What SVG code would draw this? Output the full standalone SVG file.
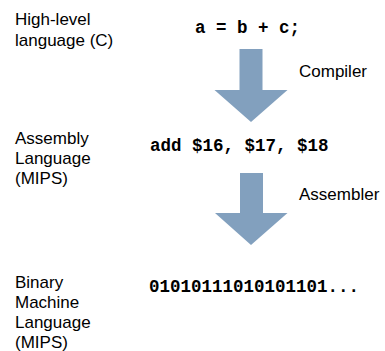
<svg xmlns="http://www.w3.org/2000/svg" width="385" height="351" viewBox="0 0 385 351">
<style>
.lbl{font-family:"Liberation Sans",Arial,sans-serif;font-size:17px;fill:#000}
.code{font-family:"Liberation Mono","Courier New",monospace;font-size:17.5px;font-weight:bold;fill:#000}
.arrow{fill:#82A0BE}
</style>
<rect width="385" height="351" fill="#fff"/>
<g id="hll">
<text class="lbl" x="15" y="25">High-level</text>
<text class="lbl" x="15" y="46">language (C)</text>
<text class="code" x="195" y="33">a = b + c;</text>
</g>
<g id="asm">
<text class="lbl" x="15" y="144">Assembly</text>
<text class="lbl" x="15" y="164">Language</text>
<text class="lbl" x="15" y="184">(MIPS)</text>
<text class="code" x="150" y="151">add $16, $17, $18</text>
</g>
<g id="bin">
<text class="lbl" x="15" y="288">Binary</text>
<text class="lbl" x="15" y="308">Machine</text>
<text class="lbl" x="15" y="328">Language</text>
<text class="lbl" x="15" y="348">(MIPS)</text>
<text class="code" x="149" y="292">01010111010101101...</text>
</g>
<g id="connectors">
<g id="compiler">
<polygon class="arrow" points="239.5,49 262.5,49 262.5,90 287.5,90 251,122 214.5,90 239.5,90"/>
<text class="lbl" x="299" y="77">Compiler</text>
</g>
<g id="assembler">
<polygon class="arrow" points="240,173 263,173 263,213 287.5,213 251,245 215,213 240,213"/>
<text class="lbl" x="299" y="200">Assembler</text>
</g>
</g>
</svg>
